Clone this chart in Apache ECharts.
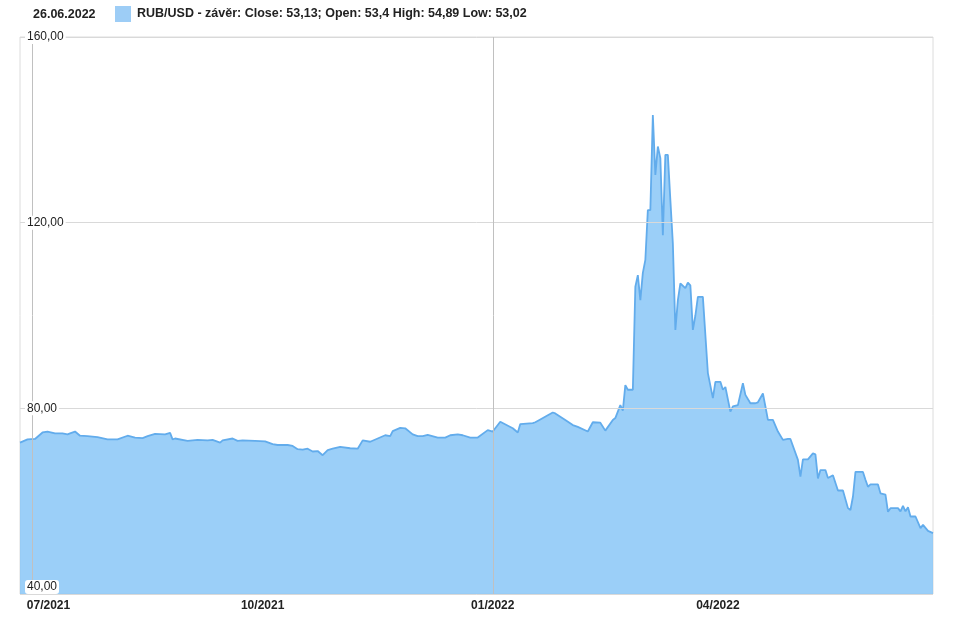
<!DOCTYPE html>
<html>
<head>
<meta charset="utf-8">
<style>html,body{margin:0;padding:0;background:#fff}#c{width:955px;height:617px}</style>
<script src="https://cdn.jsdelivr.net/npm/echarts@6/dist/echarts.min.js"></script>
</head>
<body>
<div id="c"></div>
<script>
var dates = ['2021-06-26','2021-06-29','2021-07-02','2021-07-05','2021-07-07','2021-07-10','2021-07-13','2021-07-15','2021-07-16','2021-07-18','2021-07-20','2021-07-23','2021-07-27','2021-07-31','2021-08-04','2021-08-08','2021-08-11','2021-08-14','2021-08-16','2021-08-19','2021-08-23','2021-08-25','2021-08-26','2021-08-27','2021-09-01','2021-09-05','2021-09-09','2021-09-11','2021-09-14','2021-09-15','2021-09-19','2021-09-21','2021-09-23','2021-09-28','2021-10-02','2021-10-05','2021-10-07','2021-10-11','2021-10-13','2021-10-15','2021-10-17','2021-10-19','2021-10-21','2021-10-23','2021-10-25','2021-10-27','2021-10-29','2021-11-01','2021-11-05','2021-11-08','2021-11-10','2021-11-13','2021-11-16','2021-11-19','2021-11-21','2021-11-22','2021-11-25','2021-11-27','2021-11-30','2021-12-02','2021-12-04','2021-12-06','2021-12-10','2021-12-13','2021-12-15','2021-12-18','2021-12-20','2021-12-23','2021-12-26','2021-12-30','2022-01-01','2022-01-04','2022-01-09','2022-01-11','2022-01-12','2022-01-17','2022-01-18','2022-01-20','2022-01-23','2022-01-25','2022-01-26','2022-01-30','2022-02-02','2022-02-04','2022-02-08','2022-02-10','2022-02-13','2022-02-15','2022-02-18','2022-02-19','2022-02-21','2022-02-22','2022-02-23','2022-02-24','2022-02-26','2022-02-27','2022-02-28','2022-03-01','2022-03-02','2022-03-03','2022-03-04','2022-03-05','2022-03-06','2022-03-07','2022-03-08','2022-03-09','2022-03-10','2022-03-11','2022-03-12','2022-03-13','2022-03-14','2022-03-15','2022-03-16','2022-03-17','2022-03-19','2022-03-20','2022-03-21','2022-03-22','2022-03-23','2022-03-24','2022-03-26','2022-03-28','2022-03-30','2022-03-31','2022-04-02','2022-04-03','2022-04-04','2022-04-06','2022-04-07','2022-04-09','2022-04-11','2022-04-12','2022-04-14','2022-04-16','2022-04-17','2022-04-19','2022-04-20','2022-04-21','2022-04-23','2022-04-25','2022-04-27','2022-04-29','2022-04-30','2022-05-03','2022-05-04','2022-05-05','2022-05-07','2022-05-09','2022-05-10','2022-05-11','2022-05-12','2022-05-14','2022-05-15','2022-05-17','2022-05-19','2022-05-21','2022-05-23','2022-05-24','2022-05-25','2022-05-26','2022-05-29','2022-05-30','2022-05-31','2022-06-01','2022-06-04','2022-06-05','2022-06-07','2022-06-08','2022-06-09','2022-06-12','2022-06-13','2022-06-14','2022-06-15','2022-06-16','2022-06-17','2022-06-19','2022-06-21','2022-06-22','2022-06-24','2022-06-26'];
var closeValues = [72.6,73.3,73.4,74.8,75.0,74.6,74.6,74.4,74.6,75.0,74.1,74.0,73.8,73.3,73.3,74.1,73.7,73.6,74.0,74.5,74.4,74.7,73.3,73.5,73.0,73.2,73.1,73.2,72.6,73.1,73.5,73.0,73.1,73.0,72.9,72.3,72.1,72.1,71.9,71.2,71.1,71.3,70.7,70.8,69.9,71.0,71.3,71.7,71.4,71.3,73.1,72.8,73.5,74.2,74.0,75.1,75.8,75.7,74.4,74.0,74.0,74.3,73.7,73.7,74.2,74.4,74.2,73.7,73.7,75.3,75.0,77.1,75.7,74.8,76.6,76.8,77.0,77.6,78.5,79.1,78.9,77.5,76.4,76.0,75.0,77.0,76.9,75.2,77.5,77.9,80.7,79.5,85.0,84.0,84.0,106.2,108.7,103.3,109.2,112.0,122.7,122.7,143.2,130.3,136.4,133.9,117.3,134.6,134.6,124.9,115.5,96.9,103.3,106.9,105.9,107.1,106.5,96.9,100.0,104.0,104.0,87.6,82.2,85.7,85.7,84.0,84.6,79.3,80.4,80.7,85.4,82.9,81.1,81.1,81.3,83.2,80.4,77.5,77.5,75.0,73.2,73.4,73.4,68.9,65.3,69.0,69.0,70.3,70.1,64.9,66.7,66.7,65.0,65.6,62.3,62.3,58.5,58.1,61.0,66.3,66.3,64.6,63.1,63.6,63.6,61.7,61.4,57.7,58.5,58.5,57.8,59.0,57.8,58.7,56.7,56.7,54.2,54.9,53.6,53.13];
var xTickLabels = ['07/2021','10/2021','01/2022','04/2022'];
var yTicks = [40, 80, 120, 160];
var vLineDates = ['2021-07-01','2022-01-01'];
var xRange = ['2021-06-26','2022-06-26'];
var headerDate = '26.06.2022';
var seriesName = 'RUB/USD - závěr: Close: 53,13; Open: 53,4 High: 54,89 Low: 53,02';

var seriesData = dates.map(function(d, i){ return [d, closeValues[i]]; });

function fmtMonth(v){
  var d = new Date(v);
  var m = d.getMonth() + 1;
  return (m < 10 ? '0' + m : '' + m) + '/' + d.getFullYear();
}

var FONT = 'Liberation Sans, Arial, sans-serif';
var chart = echarts.init(document.getElementById('c'), null, {renderer: 'canvas'});
chart.setOption({
  animation: false,
  backgroundColor: '#fff',
  textStyle: {fontFamily: FONT},
  title: {
    text: headerDate, left: 28, top: 3,
    textStyle: {fontSize: 12.5, fontWeight: 'bold', color: '#222', fontFamily: FONT}
  },
  legend: {
    left: 110, top: 1, icon: 'rect', itemWidth: 16, itemHeight: 16, itemGap: 6,
    data: [seriesName],
    textStyle: {fontSize: 12.5, fontWeight: 'bold', color: '#222', fontFamily: FONT, padding: [4,0,0,1]}
  },
  grid: {left: 20, right: 22, top: 37, bottom: 23, show: true, borderColor: '#dcdcdc', borderWidth: 1, containLabel: false},
  xAxis: {
    type: 'time',
    min: xRange[0], max: xRange[1],
    splitNumber: 4,
    minInterval: 90 * 24 * 3600 * 1000,
    axisLine: {show: false},
    axisTick: {show: false},
    splitLine: {show: false},
    axisLabel: {
      showMinLabel: false, showMaxLabel: false,
      margin: 6,
      fontSize: 12, fontWeight: 'bold', color: '#222',
      fontFamily: FONT,
      formatter: function(v){
        var s = fmtMonth(v);
        if (xTickLabels.indexOf(s) < 0) return '';
        if (s === xTickLabels[0]) return '{f|' + s + '}';
        return s;
      },
      rich: {f: {fontSize: 12, fontWeight: 'bold', color: '#222', padding: [0,0,0,32], fontFamily: FONT}}
    }
  },
  yAxis: {
    type: 'value', min: yTicks[0], max: yTicks[yTicks.length-1], interval: 40,
    axisLine: {show: false}, axisTick: {show: false},
    splitLine: {lineStyle: {color: '#d9d9d9', width: 1}},
    axisLabel: {
      inside: true, margin: 5,
      fontSize: 12, color: '#222',
      fontFamily: FONT,
      backgroundColor: '#fff', padding: [1,2,1,2], borderRadius: 3,
      verticalAlignMinLabel: 'bottom',
      formatter: function(v){ return v.toFixed(2).replace('.', ','); }
    },
    z: 5
  },
  series: [
    {
      type: 'line', name: 'grid', data: [], z: 1, silent: true,
      markLine: {
        silent: true, symbol: ['none','none'], label: {show: false},
        lineStyle: {color: '#c0c0c0', type: 'solid', width: 1},
        data: vLineDates.map(function(d){ return {xAxis: d}; })
      }
    },
    {
      type: 'line', name: seriesName, data: seriesData, z: 2,
      showSymbol: false, symbol: 'none',
      itemStyle: {color: '#9dcdf6'},
      lineStyle: {color: '#62acec', width: 1.8},
      areaStyle: {color: '#82c3f6', opacity: 0.8, origin: 'start'}
    }
  ]
});
</script>
</body>
</html>
